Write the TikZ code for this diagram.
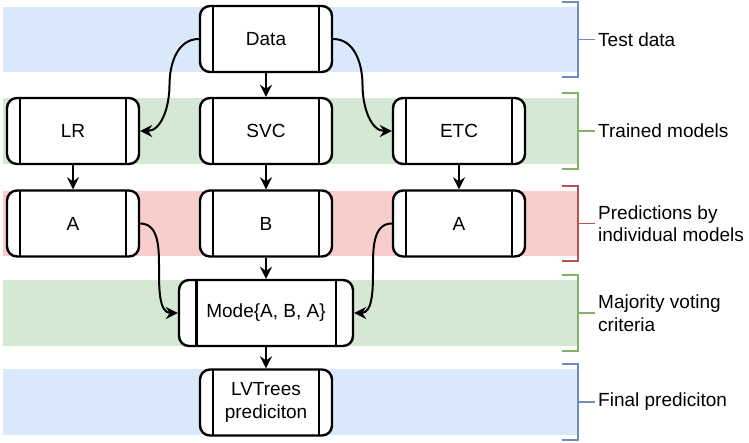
\documentclass[tikz,border=0pt]{standalone}
\usepackage{fontspec}
\setmainfont{Liberation Sans}
\usetikzlibrary{arrows.meta,positioning,calc}

\definecolor{fillblue}{HTML}{DAE8FC}
\definecolor{lineblue}{HTML}{6C8EBF}
\definecolor{fillgreen}{HTML}{D5E8D4}
\definecolor{linegreen}{HTML}{82B366}
\definecolor{fillred}{HTML}{F8CECC}
\definecolor{linered}{HTML}{B85450}

\begin{document}
\begin{tikzpicture}[x=1pt,y=-1pt,on grid,
    >={Stealth[length=12pt,width=12pt,inset=4pt]},
    font=\fontsize{19}{22.5}\selectfont,
    proc/.style={draw, line width=2.4pt, rounded corners=10pt, fill=white,
        minimum width=132pt, minimum height=66pt, inner sep=0pt, align=center,
        path picture={
            \draw[line width=2.2pt]
              ($(path picture bounding box.north west)!0.1!(path picture bounding box.north east)$) --
              ($(path picture bounding box.south west)!0.1!(path picture bounding box.south east)$)
              ($(path picture bounding box.north east)!0.1!(path picture bounding box.north west)$) --
              ($(path picture bounding box.south east)!0.1!(path picture bounding box.south west)$);
        }},
    flow/.style={->, line width=2pt},
    lbl/.style={anchor=west, align=left, inner sep=0pt}]

    \useasboundingbox (0,0) rectangle (749,442);

    % lanes with their brackets
    \foreach \t/\b/\c in {7/72/blue,98/164/green,191/256/red,280/346/green,369/435/blue}{
        \fill[fill\c] (3,\t) rectangle (577,\b);
        \draw[line\c, line width=1.8pt] (562,\t-5) -- (578,\t-5) -- (578,\b+5) -- (562,\b+5)
            (578,{(\t+\b)/2}) -- (595,{(\t+\b)/2});
    }

    \node[lbl] (ltest) at (598,39.5) {Test data};
    \node[lbl] (ltrain) at (598,131) {Trained models};
    \node[lbl] (lpred) at (598,223.5) {Predictions by\\individual models};
    \node[lbl] (lvote) at (598,313) {Majority voting\\criteria};
    \node[lbl] (lfinal) at (598,402) {Final prediciton};

    \node[proc] (data) at (266,39) {Data};
    \node[proc, below=92pt of data] (svc) {SVC};
    \node[proc, left=193pt of svc] (lr) {LR};
    \node[proc, right=193pt of svc] (etc) {ETC};
    \node[proc, below=92.5pt of svc] (predB) {B};
    \node[proc, left=193pt of predB] (predA) {A};
    \node[proc, right=193pt of predB] (predC) {A};
    \node[proc, minimum width=174pt, below=89.5pt of predB] (mode) {Mode\{A, B, A\}};
    \node[proc, below=89.5pt of mode] (final) {LVTrees\\prediciton};

    \draw[flow] (data) -- (svc);
    \draw[flow] (data.west) to[out=180,in=90] ($(data.west)!0.5!(lr.east)$) to[out=-90,in=0] (lr.east);
    \draw[flow] (data.east) to[out=0,in=90] ($(data.east)!0.5!(etc.west)$) to[out=-90,in=180] (etc.west);
    \draw[flow] (lr) -- (predA);
    \draw[flow] (svc) -- (predB);
    \draw[flow] (etc) -- (predC);
    \draw[flow] (predA.east) to[out=0,in=90] ($(predA.east)!0.5!(mode.west)$) to[out=-90,in=180] (mode.west);
    \draw[flow] (predC.west) to[out=180,in=90] ($(predC.west)!0.5!(mode.east)$) to[out=-90,in=0] (mode.east);
    \draw[flow] (predB) -- (mode);
    \draw[flow] (mode) -- (final);
\end{tikzpicture}
\end{document}
